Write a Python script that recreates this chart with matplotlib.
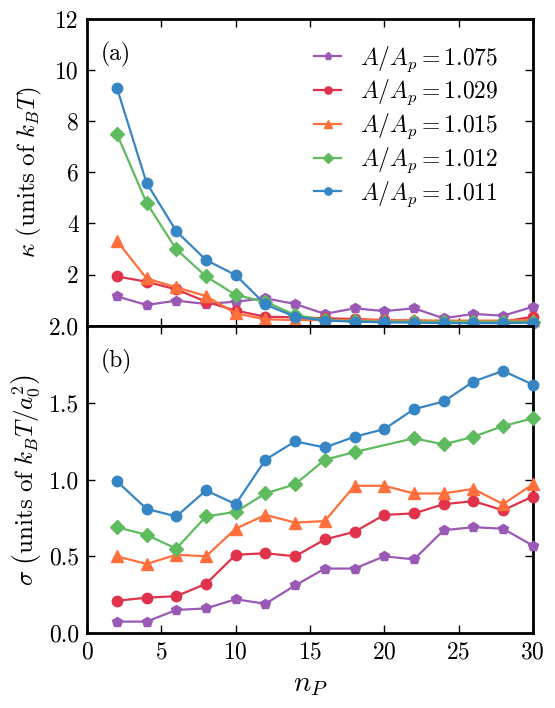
import numpy as np
import matplotlib
matplotlib.use("Agg")
import matplotlib.pyplot as plt

plt.rcParams['font.family'] = 'serif'
plt.rcParams['font.serif'] = ['cmr10']
plt.rcParams['mathtext.fontset'] = 'cm'
plt.rcParams['axes.formatter.use_mathtext'] = True

n_p = [2, 4, 6, 8, 10, 12, 14, 16, 18, 20, 22, 24, 26, 28, 30]
n_p_green_b = [2, 4, 6, 8, 10, 12, 14, 16, 18, 22, 24, 26, 28, 30]

labels = ["$A/A_p = 1.075$", "$A/A_p = 1.029$", "$A/A_p = 1.015$",
          "$A/A_p = 1.012$", "$A/A_p = 1.011$"]
colors = ['#9b59b6', '#e0334b', '#ff6f3c', '#5ebb5e', '#3685c5']
markers = ['p', 'o', '^', 'D', 'o']
msizes = [7.5, 7.5, 8, 7.5, 7.5]

# kappa (top)
kappa_1075 = [1.15, 0.81, 0.98, 0.85, 0.94, 1.07, 0.85, 0.46, 0.68, 0.57, 0.68, 0.29, 0.46, 0.39, 0.74]
kappa_1029 = [1.93, 1.72, 1.42, 0.94, 0.59, 0.35, 0.33, 0.29, 0.26, 0.22, 0.20, 0.16, 0.16, 0.16, 0.35]
kappa_1015 = [3.32, 1.85, 1.50, 1.16, 0.48, 0.25, 0.22, 0.22, 0.22, 0.21, 0.21, 0.20, 0.20, 0.20, 0.22]
kappa_1012 = [7.51, 4.81, 2.99, 1.93, 1.20, 0.94, 0.42, 0.22, 0.17, 0.16, 0.15, 0.15, 0.15, 0.15, 0.15]
kappa_1011 = [9.32, 5.59, 3.70, 2.57, 1.98, 0.83, 0.35, 0.20, 0.16, 0.13, 0.12, 0.10, 0.10, 0.10, 0.12]

# sigma (bottom)
sigma_1075 = [0.074, 0.074, 0.15, 0.16, 0.22, 0.19, 0.31, 0.42, 0.42, 0.50, 0.48, 0.67, 0.69, 0.68, 0.57]
sigma_1029 = [0.21, 0.23, 0.24, 0.32, 0.51, 0.52, 0.50, 0.61, 0.66, 0.77, 0.78, 0.84, 0.86, 0.80, 0.89]
sigma_1015 = [0.50, 0.45, 0.51, 0.50, 0.68, 0.77, 0.72, 0.73, 0.96, 0.96, 0.91, 0.91, 0.94, 0.84, 0.97]
sigma_1012 = [0.69, 0.64, 0.55, 0.76, 0.79, 0.91, 0.97, 1.13, 1.18, 1.27, 1.23, 1.28, 1.35, 1.40]
sigma_1011 = [0.99, 0.81, 0.76, 0.93, 0.84, 1.13, 1.25, 1.21, 1.28, 1.33, 1.46, 1.51, 1.64, 1.71, 1.62]

kappas = [kappa_1075, kappa_1029, kappa_1015, kappa_1012, kappa_1011]
sigmas = [sigma_1075, sigma_1029, sigma_1015, sigma_1012, sigma_1011]
sigma_x = [n_p, n_p, n_p, n_p_green_b, n_p]

fig = plt.figure(figsize=(5.55, 7.08), dpi=100)
ax1 = fig.add_axes([0.157, 0.540, 0.803, 0.433])
ax2 = fig.add_axes([0.157, 0.106, 0.803, 0.433])

for k in range(5):
    ax1.plot(n_p, kappas[k], color=colors[k], marker=markers[k], ms=msizes[k],
             lw=1.6, mec=colors[k], label=labels[k], clip_on=False, zorder=3)
    ax2.plot(sigma_x[k], sigmas[k], color=colors[k], marker=markers[k], ms=msizes[k],
             lw=1.6, mec=colors[k], clip_on=False, zorder=3)

for ax in (ax1, ax2):
    ax.set_xlim(0, 30)
    ax.set_xticks([0, 5, 10, 15, 20, 25, 30])
    ax.tick_params(direction='in', top=True, right=True, length=6, width=1,
                   labelsize=17, pad=6)
    for s in ax.spines.values():
        s.set_linewidth(2)

ax1.set_ylim(0, 12)
ax1.set_yticks([0, 2, 4, 6, 8, 10, 12])
ax1.set_yticklabels(['', '2', '4', '6', '8', '10', '12'])
ax1.tick_params(labelbottom=False)
ax1.set_ylabel(r"$\kappa\ \mathrm{(units\ of\ }k_BT\mathrm{)}$", fontsize=18, labelpad=8)
ax1.text(0.03, 0.925, "(a)", transform=ax1.transAxes, fontsize=17, va='top')
ax1.legend(loc='upper right', frameon=False, fontsize=17, handlelength=1.15,
           handletextpad=0.8, labelspacing=0.18, markerscale=0.7,
           bbox_to_anchor=(0.955, 0.965), borderaxespad=0.2)

ax2.set_ylim(0, 2.0)
ax2.set_yticks([0.0, 0.5, 1.0, 1.5, 2.0])
ax2.set_yticklabels(['0.0', '0.5', '1.0', '1.5', '2.0'])
ax2.set_xlabel(r"$n_P$", fontsize=21, labelpad=6)
ax2.set_ylabel(r"$\sigma\ \left(\mathrm{units\ of\ }k_BT/a_0^2\right)$", fontsize=18, labelpad=4)
ax2.text(0.03, 0.925, "(b)", transform=ax2.transAxes, fontsize=17, va='top')

fig.savefig("out.png", dpi=100)
